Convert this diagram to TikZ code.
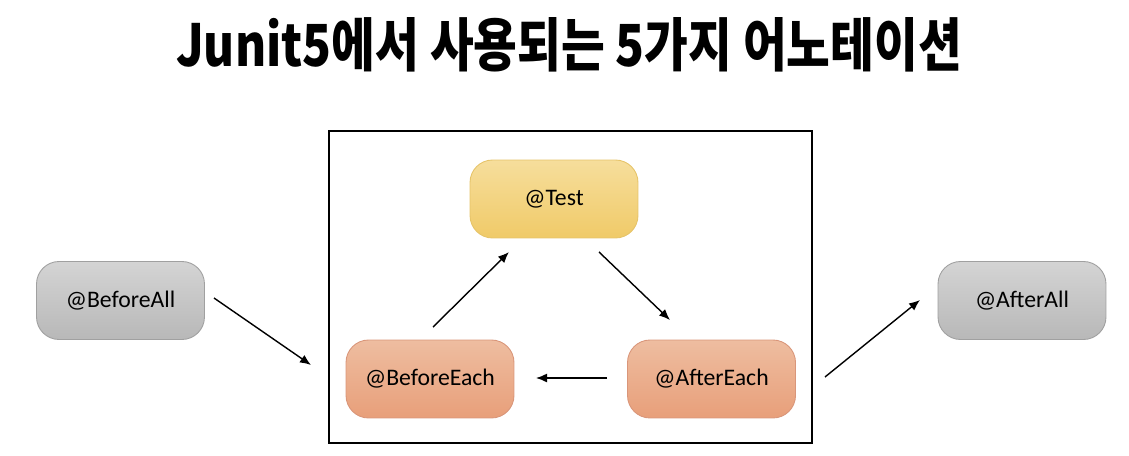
\documentclass[tikz,border=0pt]{standalone}
\usepackage{fontspec}
\setmainfont{Carlito}
\newfontfamily\cjk{Noto Sans CJK KR}
\usetikzlibrary{arrows.meta, positioning}
\definecolor{alltop}{HTML}{D4D4D4}
\definecolor{allbot}{HTML}{B8B8B8}
\definecolor{allline}{HTML}{A0A0A0}
\definecolor{testtop}{HTML}{F6DE9C}
\definecolor{testbot}{HTML}{F0CA68}
\definecolor{testline}{HTML}{E6C46A}
\definecolor{eachtop}{HTML}{EEBDA0}
\definecolor{eachbot}{HTML}{E89F7A}
\definecolor{eachline}{HTML}{D9967A}
\tikzset{
  box/.style={rounded corners=0.45cm, minimum width=3.36cm, minimum height=1.56cm,
              align=center, font=\fontsize{13.5}{16}\selectfont, line width=0.5pt},
  allbox/.style={box, draw=allline, top color=alltop, bottom color=allbot},
  testbox/.style={box, draw=testline, top color=testtop, bottom color=testbot},
  eachbox/.style={box, draw=eachline, top color=eachtop, bottom color=eachbot},
  flow/.style={-{Latex[length=2.2mm, width=1.8mm]}, line width=0.8pt, draw=black},
}
\begin{document}
\begin{tikzpicture}[x=0.02cm, y=-0.02cm]
  \useasboundingbox (0,0) rectangle (1129,456);
  % title
  \node[font=\cjk\bfseries\fontsize{33}{38}\selectfont] (title) at (569,45)
       {\scalebox{0.82}[1]{Junit5에서 사용되는 5가지 어노테이션}};
  % frame round the cycle
  \node[draw=black, line width=0.8pt, minimum width=9.66cm, minimum height=6.24cm] (frame) at (570.5,287) {};
  \node[testbox] (test) at (554,199) {@Test};
  \node[eachbox] (beach) at (430,379) {@BeforeEach};
  \node[eachbox] (aeach) at (711.5,379) {@AfterEach};
  \node[allbox] (ball) at (120.5,300.5) {@BeforeAll};
  \node[allbox] (aall) at (1022,300.5) {@AfterAll};
  % free arrow ends
  \coordinate (ballout) at (214,298);
  \coordinate (framein) at (311,365);
  \coordinate (frameout) at (825,377);
  \coordinate (aallin) at (920,300);
  \coordinate (beachout) at (433,327);
  \coordinate (testin) at (509,252);
  \coordinate (testout) at (599,252);
  \coordinate (aeachin) at (670,320);
  \coordinate (aeachout) at (607,378);
  \coordinate (beachin) at (536,378);
  \foreach \a/\b in {ballout/framein, frameout/aallin, beachout/testin,
                     testout/aeachin, aeachout/beachin}
    \draw[flow] (\a) -- (\b);
\end{tikzpicture}
\end{document}
